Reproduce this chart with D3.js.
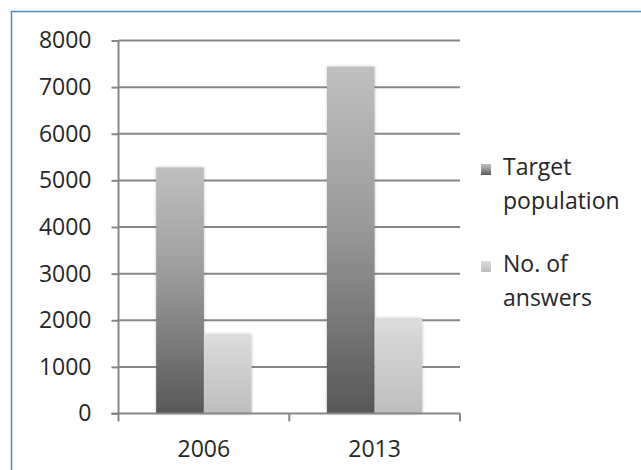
<!DOCTYPE html>
<html>
<head>
<meta charset="utf-8">
<script src="https://cdn.jsdelivr.net/npm/d3@7"></script>
<style>
  body { margin: 0; background: #fff; }
  text { font-family: "Open Sans", sans-serif; fill: #262626; }
</style>
</head>
<body>
<div id="chart"></div>
<script>
var years = ["2006", "2013"];
var series = ["Target population", "No. of answers"];
var targetValues = [5280, 7440];
var answerValues = [1700, 2050];
var yTicks = [0, 1000, 2000, 3000, 4000, 5000, 6000, 7000, 8000];
var legendLines = [["Target", "population"], ["No. of", "answers"]];

var width = 641, height = 470;

var data = years.map(function(y, i) {
  return { year: y, values: [targetValues[i], answerValues[i]] };
});

var svg = d3.select("#chart").append("svg")
  .attr("width", width)
  .attr("height", height);

// gradients for bars
var defs = svg.append("defs");
var g1 = defs.append("linearGradient").attr("id", "gTarget")
  .attr("x1", 0).attr("y1", 0).attr("x2", 0).attr("y2", 1);
g1.append("stop").attr("offset", "0%").attr("stop-color", "#c0c0c0");
g1.append("stop").attr("offset", "45%").attr("stop-color", "#9a9a9a");
g1.append("stop").attr("offset", "100%").attr("stop-color", "#575757");
var g2 = defs.append("linearGradient").attr("id", "gAnswer")
  .attr("x1", 0).attr("y1", 0).attr("x2", 0).attr("y2", 1);
g2.append("stop").attr("offset", "0%").attr("stop-color", "#dcdcdc");
g2.append("stop").attr("offset", "100%").attr("stop-color", "#bdbdbd");
var fills = ["url(#gTarget)", "url(#gAnswer)"];

var shadow = defs.append("filter").attr("id", "glow")
  .attr("x", "-20%").attr("y", "-10%").attr("width", "140%").attr("height", "120%");
shadow.append("feGaussianBlur").attr("in", "SourceAlpha").attr("stdDeviation", 1.5).attr("result", "b");
shadow.append("feComponentTransfer").attr("in", "b").attr("result", "b2")
  .append("feFuncA").attr("type", "linear").attr("slope", 0.25);
var merge = shadow.append("feMerge");
merge.append("feMergeNode").attr("in", "b2");
merge.append("feMergeNode").attr("in", "SourceGraphic");

// frame
svg.append("rect")
  .attr("x", 11.5).attr("y", 11.5)
  .attr("width", 700).attr("height", 600)
  .attr("fill", "none")
  .attr("stroke", "#4a86c8")
  .attr("stroke-width", 1.5);

var y = d3.scaleLinear().domain([0, 8000]).range([413.5, 40.5]);
var x0 = d3.scaleBand().domain(years).range([118.5, 460]);
var x1 = d3.scaleBand().domain(series).range([0, x0.bandwidth()])
  .paddingInner(0).paddingOuter(0.79);

// gridlines
svg.append("g").selectAll("line")
  .data(yTicks.slice(1))
  .enter().append("line")
  .attr("x1", 118.5).attr("x2", 460)
  .attr("y1", function(d) { return y(d); })
  .attr("y2", function(d) { return y(d); })
  .attr("stroke", "#878787")
  .attr("stroke-width", 2);

// bars
var grp = svg.append("g").selectAll("g")
  .data(data)
  .enter().append("g")
  .attr("transform", function(d) { return "translate(" + x0(d.year) + ",0)"; });

grp.selectAll("rect")
  .data(function(d) { return d.values.map(function(v, i) { return { s: series[i], v: v, i: i }; }); })
  .enter().append("rect")
  .attr("x", function(d) { return x1(d.s); })
  .attr("width", x1.bandwidth())
  .attr("y", function(d) { return y(d.v); })
  .attr("height", function(d) { return y(0) - y(d.v); })
  .attr("fill", function(d) { return fills[d.i]; })
  .attr("filter", "url(#glow)");

// y axis
var yAxis = d3.axisLeft(y).tickValues(yTicks).tickSize(7).tickPadding(20)
  .tickFormat(d3.format("d"));
var yg = svg.append("g").attr("transform", "translate(118.5,0)").call(yAxis);
yg.select(".domain").attr("stroke", "#878787").attr("stroke-width", 2)
  .attr("d", "M0," + y(8000) + "V" + y(0));
yg.selectAll(".tick line").attr("stroke", "#878787").attr("stroke-width", 2);
yg.selectAll(".tick text").style("font-size", "23px").attr("fill", "#262626")
  .style("font-family", "'Open Sans', sans-serif");

// x axis
svg.append("line")
  .attr("x1", 111.5).attr("x2", 460)
  .attr("y1", y(0)).attr("y2", y(0))
  .attr("stroke", "#878787").attr("stroke-width", 2);
var bounds = [x0.range()[0], x0(years[1]), x0.range()[1]];
svg.append("g").selectAll("line")
  .data(bounds)
  .enter().append("line")
  .attr("x1", function(d) { return d; }).attr("x2", function(d) { return d; })
  .attr("y1", y(0)).attr("y2", y(0) + 8)
  .attr("stroke", "#878787").attr("stroke-width", 2);

svg.append("g").selectAll("text")
  .data(years)
  .enter().append("text")
  .attr("x", function(d) { return x0(d) + x0.bandwidth() / 2; })
  .attr("y", 449)
  .attr("dy", "0.35em")
  .attr("text-anchor", "middle")
  .style("font-size", "23px")
  .text(function(d) { return d; });

// legend
var leg = svg.append("g").selectAll("g")
  .data(series)
  .enter().append("g")
  .attr("transform", function(d, i) { return "translate(481," + (164 + i * 97) + ")"; });
leg.append("rect")
  .attr("width", 10).attr("height", 11)
  .attr("fill", function(d, i) { return fills[i]; });
leg.append("text")
  .attr("x", 22)
  .style("font-size", "23px")
  .selectAll("tspan")
  .data(function(d, i) { return legendLines[i]; })
  .enter().append("tspan")
  .attr("x", 22)
  .attr("y", function(d, j) { return 11 + j * 34; })
  .text(function(d) { return d; });
</script>
</body>
</html>
